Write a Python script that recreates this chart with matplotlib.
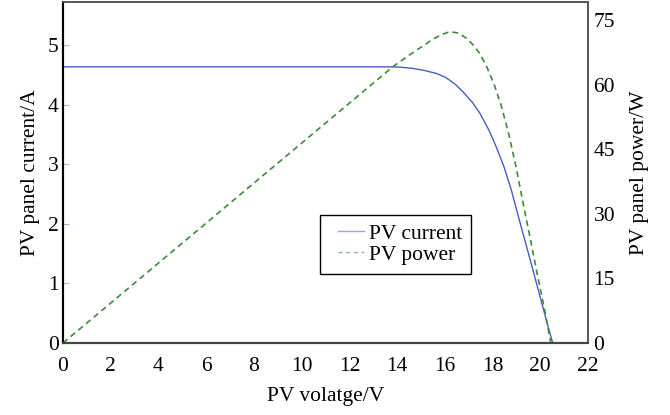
import matplotlib
matplotlib.use("Agg")
import matplotlib.pyplot as plt
from matplotlib.lines import Line2D
from matplotlib.legend_handler import HandlerLine2D

plt.rcParams['font.family'] = ['Liberation Serif', 'DejaVu Serif']

# PV current (A) vs voltage (V)
volt_i = [0.0, 13.1, 13.83, 14.13, 14.64, 15.14, 15.65, 16.05, 16.46, 16.76, 17.16,
          17.47, 17.87, 18.17, 18.48, 18.78, 19.18, 19.59, 19.99, 20.29, 20.52]
current = [4.64, 4.64, 4.64, 4.635, 4.615, 4.58, 4.53, 4.46, 4.34, 4.22, 4.04,
           3.86, 3.56, 3.28, 2.96, 2.58, 1.98, 1.38, 0.78, 0.33, 0.0]

# PV power (W) vs voltage (V)
volt_p = [0.0, 13.83, 14.34, 14.81, 15.14, 15.51, 15.85, 16.21, 16.56, 16.9, 17.16,
          17.47, 17.77, 18.07, 18.37, 18.68, 18.98, 19.28, 19.59, 19.89, 20.19, 20.44]
power = [0.0, 64.2, 66.2, 68.0, 69.2, 70.6, 71.6, 72.3, 72.0, 70.8, 69.4,
         67.2, 64.0, 60.0, 55.0, 48.5, 41.0, 32.5, 24.0, 15.5, 7.5, 0.0]

xticks = list(range(0, 23, 2))
yticks_left = [0, 1, 2, 3, 4, 5]
yticks_right = [0, 15, 30, 45, 60, 75]

FS = 15.5

fig = plt.figure(figsize=(6.7, 4.15), dpi=100)
ax = fig.add_axes([63/670, 72/415, 525/670, 341/415])
ax2 = ax.twinx()

blue = '#4a5cc0'
green = '#3a8c3a'

ax.plot(volt_i, current, color=blue, lw=1.0)
ax2.plot(volt_p, power, color=green, lw=1.2, dashes=(3.5, 2.5))

ax.set_xlim(0, 22)
ax.set_ylim(0, 5.73)
ax2.set_ylim(0, 79.2)
ax.set_xticks(xticks)
ax.set_yticks(yticks_left)
ax2.set_yticks(yticks_right)

ax.tick_params(axis='x', length=0, labelsize=FS, pad=10)
ax.tick_params(axis='y', direction='in', length=4, color='#a8b4e0', labelsize=FS, pad=3)
ax2.tick_params(axis='y', length=0, labelsize=FS, pad=4)

ax.set_xlabel('PV volatge/V', fontsize=FS, labelpad=8)
ax.set_ylabel('PV panel current/A', fontsize=FS, labelpad=6)
ax2.set_ylabel('PV panel power/W', fontsize=FS, labelpad=11)

for a in (ax, ax2):
    a.spines['left'].set_color('black')
    a.spines['left'].set_linewidth(1.5)
    a.spines['bottom'].set_color('#444444')
    a.spines['bottom'].set_linewidth(1.5)
    a.spines['top'].set_color('#555555')
    a.spines['top'].set_linewidth(1.2)
    a.spines['right'].set_color('#555555')
    a.spines['right'].set_linewidth(1.2)

handles = [Line2D([], [], color='#9aa6d8', lw=1.0),
           Line2D([], [], color='#8fb8a0', lw=1.0, dashes=(3, 2.5))]
hm = {h: HandlerLine2D(xpad=0.43) for h in handles}
leg = ax.legend(handles, ['PV current', 'PV power'], loc='upper left',
                bbox_to_anchor=((320 - 63) / 525, 0.375), fontsize=FS, frameon=True,
                fancybox=False, edgecolor='black', framealpha=1,
                handlelength=1.64, handletextpad=0.23, borderpad=0.4,
                labelspacing=0.05, borderaxespad=0, handler_map=hm)
leg.get_frame().set_linewidth(1.0)

fig.savefig('out.png', dpi=100)
